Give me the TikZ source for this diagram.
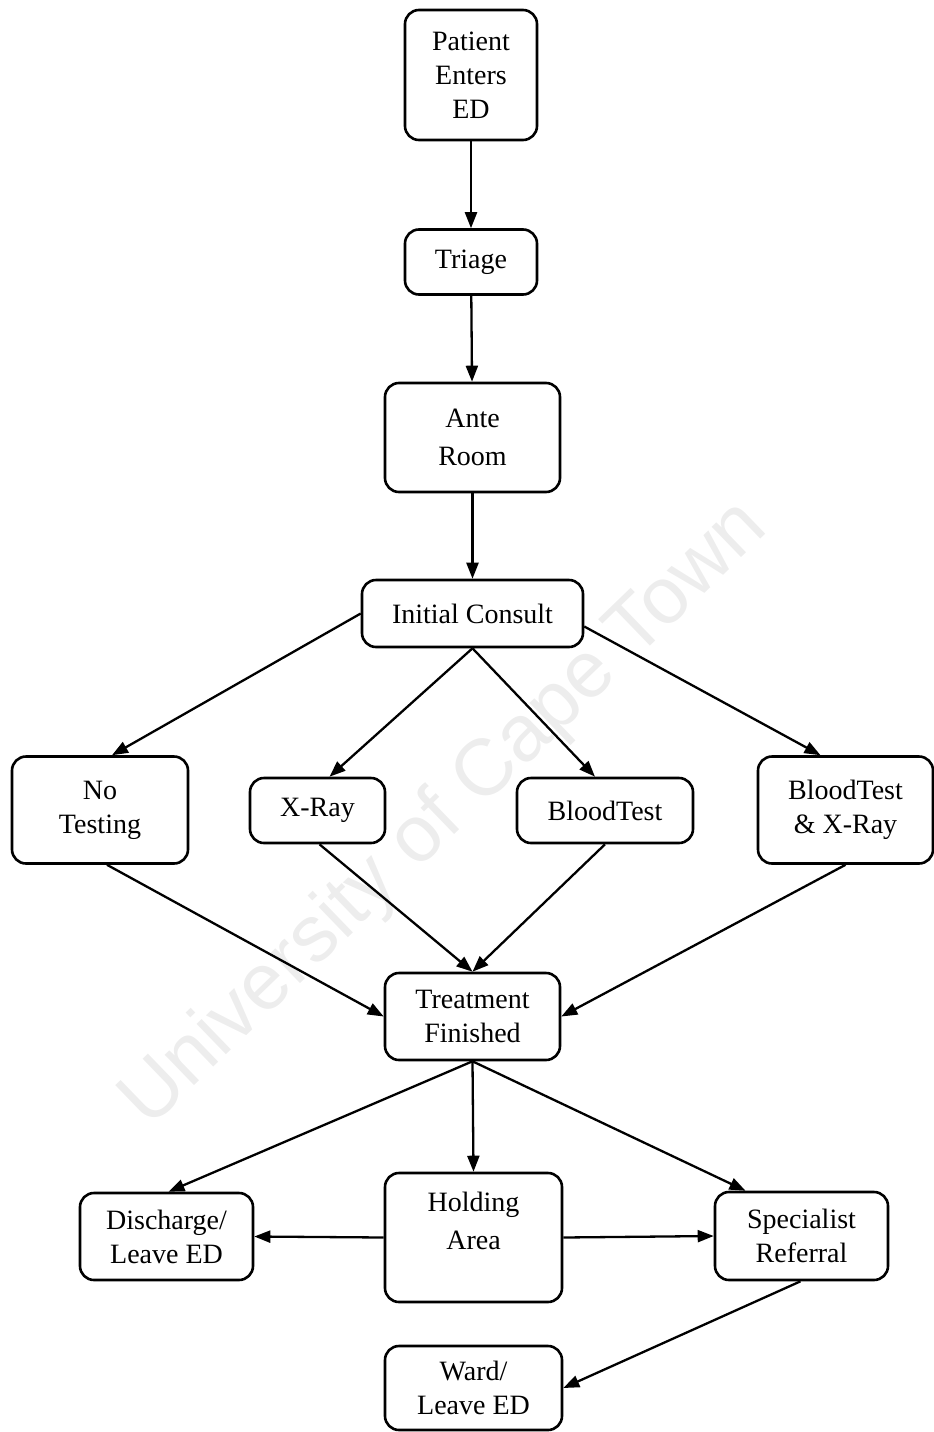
\documentclass[tikz,border=0pt]{standalone}
\usepackage{fontspec}
\setmainfont{Liberation Serif}
\setsansfont{Liberation Sans}
\usetikzlibrary{arrows.meta}
\begin{document}
\begin{tikzpicture}[x=1pt,y=-1pt,
  box/.style={draw=black, line width=2.6pt, rounded corners=14pt, align=center,
    inner sep=0pt, font=\fontsize{28}{34}\selectfont},
  plain/.style={align=center, inner sep=0pt, font=\fontsize{28}{38}\selectfont},
  flow/.style={line width=2.3pt, -{Triangle[length=16pt,width=12pt]}},
  mark text/.style={text=gray!14, font=\sffamily\fontsize{80}{80}\selectfont}]
\useasboundingbox (0,0) rectangle (934,1432);

% faint watermark behind the chart
\node[mark text, rotate=44] (wm) at (445,815) {University of Cape Town};

% process boxes
\node[box, minimum width=132pt, minimum height=130pt] (pe) at (471,75) {Patient\\Enters\\ED};
\node[box, minimum width=132pt, minimum height=65pt] (tr) at (471,262) {Triage};
\node[box, minimum width=175pt, minimum height=109pt, font=\fontsize{28}{38}\selectfont] (ar) at (472.5,437.5) {Ante\\Room};
\node[box, minimum width=221pt, minimum height=67pt] (ic) at (472.5,613.5) {Initial Consult};

\node[box, minimum width=176pt, minimum height=107pt] (nt) at (100,810) {No\\Testing};
\node[box, minimum width=135pt, minimum height=65pt] (xr) at (317.5,810.5) {X-Ray};
\node[box, minimum width=176pt, minimum height=65pt] (bt) at (605,810.5) {BloodTest};
\node[box, minimum width=175pt, minimum height=107pt] (bx) at (845.5,810) {BloodTest\\\& X-Ray};

\node[box, minimum width=175pt, minimum height=87pt] (tf) at (472.5,1016.5) {Treatment\\Finished};

\node[box, minimum width=173pt, minimum height=87pt] (dl) at (166.5,1236.5) {Discharge/\\Leave ED};
\node[box, minimum width=177pt, minimum height=129pt] (ha) at (473.5,1237.5) {};
\node[plain] (hat) at (473.5,1221) {Holding\\Area};
\node[box, minimum width=173pt, minimum height=88pt] (sr) at (801.5,1236) {Specialist\\Referral};
\node[box, minimum width=177pt, minimum height=84pt] (wl) at (473.5,1388) {Ward/\\Leave ED};

% connectors
\draw[flow] (pe) -- (tr);
\draw[flow] (tr) -- (ar);
\draw[flow] (ar) -- (ic);

\draw[flow] (ic.west) -- ([xshift=12pt]nt.north);
\draw[flow] (ic.south) -- ([xshift=12pt]xr.north);
\draw[flow] (ic.south) -- ([xshift=-10pt]bt.north);
\draw[flow] ([yshift=-13pt]ic.east) -- ([xshift=-25pt]bx.north);

\draw[flow] ([xshift=7pt]nt.south) -- (tf.west);
\draw[flow] ([xshift=2pt]xr.south) -- (tf.north);
\draw[flow] (bt.south) -- (tf.north);
\draw[flow] (bx.south) -- (tf.east);

\draw[flow] (tf.south) -- ([xshift=2pt]dl.north);
\draw[flow] (tf.south) -- (ha.north);
\draw[flow] (tf.south) -- ([xshift=-56pt]sr.north);

\draw[flow] (ha.west) -- (dl.east);
\draw[flow] (ha.east) -- (sr.west);
\draw[flow] ([xshift=-1pt]sr.south) -- (wl.east);
\end{tikzpicture}
\end{document}
